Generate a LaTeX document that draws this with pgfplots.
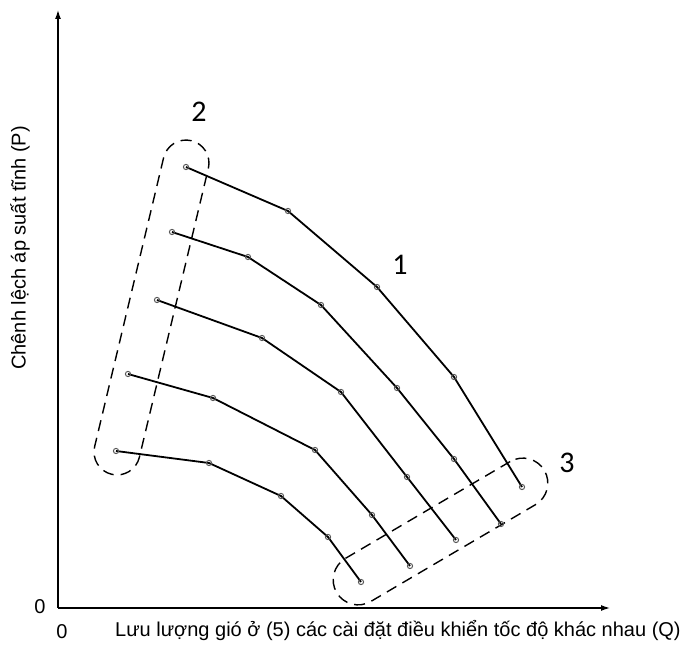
\documentclass[border=0pt]{standalone}
\usepackage{pgfplots}
\pgfplotsset{compat=1.18}
\usetikzlibrary{arrows.meta}
\usepackage{fontspec}
\setmainfont{Liberation Sans}
\newfontfamily\numfont{Carlito}
\pgfplotsset{curve/.style={black, line width=1.8pt, mark=o, mark size=2.6pt,
     mark options={fill=white, draw=black!65, line width=1pt, solid}}}
\begin{document}
\begin{tikzpicture}
\path[use as bounding box] (-58pt,-39pt) rectangle (625pt,608pt);
\begin{axis}[
  scale only axis, x=1pt, y=1pt,
  xmin=0, xmax=552, ymin=0, ymax=598,
  axis lines=left,
  axis line style={line width=1.3pt, -{Latex[length=9pt,width=6pt]}},
  xtick=\empty, ytick=\empty,
  clip=false,
]
\addplot[curve] coordinates {(128,441) (230,397) (319,321) (396,231) (464,121)};
\addplot[curve] coordinates {(114,376) (190,351) (263,303) (339,220) (396,149) (443,84)};
\addplot[curve] coordinates {(99,308) (204,270) (283,216) (349,131) (398,68)};
\addplot[curve] coordinates {(70,234) (155,210) (257,158) (314,93) (352,42)};
\addplot[curve] coordinates {(58,157) (151,145) (223,112) (270,71) (303,26)};
% enclosures
\node[draw, line width=1.4pt, dash pattern=on 11pt off 7pt, rounded corners=23pt,
  minimum width=343pt, minimum height=46pt, inner sep=0pt, rotate=76.57]
  at (axis cs:93.5,300.5) {};
\node[draw, line width=1.4pt, dash pattern=on 11pt off 7pt, rounded corners=25pt,
  minimum width=241pt, minimum height=50pt, inner sep=0pt, rotate=30.45]
  at (axis cs:382.5,76.5) {};
% labels
\node[font=\numfont\fontsize{30}{30}\selectfont] at (axis cs:342,343) {1};
\node[font=\numfont\fontsize{30}{30}\selectfont] at (axis cs:141,496) {2};
\node[font=\numfont\fontsize{30}{30}\selectfont] at (axis cs:509,145) {3};
\node[font=\fontsize{20}{20}\selectfont] at (axis cs:-18,1) {0};
\node[font=\fontsize{20}{20}\selectfont] at (axis cs:4,-24) {0};
\node[font=\fontsize{20}{20}\selectfont] at (axis cs:340,-23) {Lưu lượng gió ở (5) các cài đặt điều khiển tốc độ khác nhau (Q)};
\node[font=\fontsize{20}{20}\selectfont, rotate=90] at (axis cs:-38,360) {Chênh lệch áp suất tĩnh (P)};
\end{axis}
\end{tikzpicture}
\end{document}
